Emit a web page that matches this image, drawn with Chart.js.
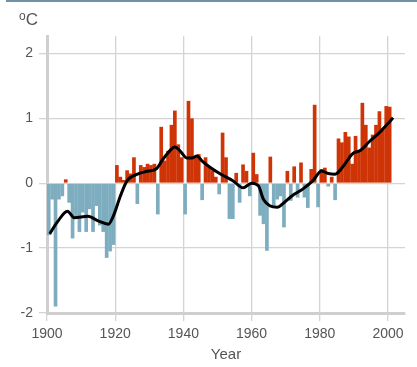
<!DOCTYPE html>
<html>
<head>
<meta charset="utf-8">
<script src="https://cdn.jsdelivr.net/npm/chart.js@4"></script>
<style>
  html, body { margin: 0; padding: 0; background: #fff; }
  #wrap { position: relative; width: 417px; height: 367px; }
  #topline { position: absolute; left: 6px; right: 0; top: 0; height: 2px; background: #6f93a3; }
  #unit { position: absolute; left: 19px; top: 9px; font: 17px "Liberation Sans", Arial, sans-serif; color: #555; }
  #unit sup { font-size: 12px; vertical-align: 5px; }
</style>
</head>
<body>
<div id="wrap">
  <div id="topline"></div>
  <canvas id="chart" width="417" height="367"></canvas>
  <div id="unit"><sup>o</sup>C</div>
</div>
<script>
// yearly anomalies, 1900..2000 (°C)
const years = [];
for (let y = 1900; y <= 2000; y++) years.push(y);

const anomalies = [
  -0.80, -0.25, -1.90, -0.25, -0.20, 0.06, -0.30, -0.85, -0.55, -0.75,
  -0.45, -0.75, -0.40, -0.75, -0.35, -0.65, -0.75, -1.15, -1.05, -0.95,
  0.28, 0.10, 0.05, 0.20, 0.15, 0.40, -0.32, 0.28, 0.25, 0.30,
  0.28, 0.30, -0.48, 0.87, 0.35, 0.50, 0.90, 1.12, 0.60, 0.40,
  -0.48, 1.27, 1.00, 0.40, 0.45, -0.26, 0.40, 0.25, 0.20, 0.10,
  -0.17, 0.78, 0.40, -0.55, -0.55, 0.16, -0.30, 0.29, 0.19, -0.20,
  0.47, 0.14, -0.50, -0.63, -1.04, 0.41, -0.35, -0.25, -0.20, -0.68,
  0.19, -0.27, 0.26, -0.22, 0.32, -0.22, -0.38, 0.22, 1.21, -0.37,
  0.22, 0.24, -0.05, 0.10, -0.26, 0.69, 0.63, 0.79, 0.72, 0.30,
  0.73, 0.50, 1.24, 0.90, 0.55, 0.75, 0.90, 1.11, 0.85, 1.19,
  1.18
];

// smoothed trend
const trendYears = [1900.8, 1903, 1906, 1908, 1912, 1915, 1918, 1919.5, 1921.5, 1923.5,
  1926, 1929, 1932, 1934, 1936, 1937.5, 1939, 1941, 1942.5, 1944,
  1945.5, 1948, 1951, 1954.5, 1957.5, 1960, 1962, 1963.5, 1965.5, 1967.5,
  1969.5, 1972, 1975, 1978, 1980.5, 1982.5, 1984.5, 1987, 1989.5, 1992,
  1994.5, 1997.5, 2000, 2001.5];
const trendValues = [-0.78, -0.60, -0.43, -0.53, -0.51, -0.58, -0.63, -0.50, -0.20, 0.04,
  0.13, 0.18, 0.22, 0.37, 0.50, 0.56, 0.50, 0.39, 0.39, 0.42,
  0.34, 0.24, 0.14, 0.04, -0.07, 0.00, -0.04, -0.25, -0.35, -0.37,
  -0.30, -0.19, -0.09, 0.04, 0.19, 0.15, 0.14, 0.27, 0.45, 0.51,
  0.64, 0.78, 0.92, 1.01];

const yTicks = [-2, -1, 0, 1, 2];
const xTicks = [1900, 1920, 1940, 1960, 1980, 2000];

const warmColor = 'rgb(206, 52, 6)';
const coolColor = 'rgb(125, 173, 190)';
const gridColor = '#d4d4d4';
const textColor = '#555';

const barData = years.map((yr, i) => ({ x: yr + 0.5, y: anomalies[i] }));
const lineData = trendYears.map((yr, i) => ({ x: yr, y: trendValues[i] }));

const keepTicks = (list) => (axis) => {
  axis.ticks = list.map(v => ({ value: v }));
};

Chart.defaults.font.family = '"Liberation Sans", Arial, sans-serif';

new Chart(document.getElementById('chart'), {
  type: 'bar',
  data: {
    datasets: [
      {
        type: 'line',
        data: lineData,
        borderColor: '#000',
        borderWidth: 3,
        pointRadius: 0,
        tension: 0.4,
        cubicInterpolationMode: 'monotone',
        order: 0
      },
      {
        type: 'bar',
        data: barData,
        backgroundColor: barData.map(p => p.y >= 0 ? warmColor : coolColor),
        borderWidth: 0,
        barPercentage: 1.08,
        categoryPercentage: 1,
        order: 1
      }
    ]
  },
  options: {
    responsive: false,
    animation: false,
    layout: { padding: { left: 0, right: 12, top: 36, bottom: 0 } },
    plugins: { legend: { display: false }, tooltip: { enabled: false } },
    scales: {
      x: {
        type: 'linear',
        min: 1900,
        max: 2005,
        offset: false,
        afterBuildTicks: keepTicks(xTicks),
        afterFit: (s) => { s.height = 54; },
        grid: { color: gridColor, lineWidth: 1.3, tickLength: 8, offset: false },
        border: { color: '#cfcfcf', width: 3 },
        ticks: { color: textColor, font: { size: 14 }, padding: 5, maxRotation: 0, callback: (v) => String(v) },
        title: { display: true, text: 'Year', color: textColor, font: { size: 15 }, padding: { top: 0, bottom: 3 } }
      },
      y: {
        min: -2,
        max: 2.27,
        afterBuildTicks: keepTicks(yTicks),
        afterFit: (s) => { s.width = 47; },
        grid: { color: gridColor, lineWidth: 1.3, tickLength: 8 },
        border: { color: '#cfcfcf', width: 3 },
        ticks: { color: textColor, font: { size: 14 }, padding: 6 }
      }
    }
  }
});
</script>
</body>
</html>
